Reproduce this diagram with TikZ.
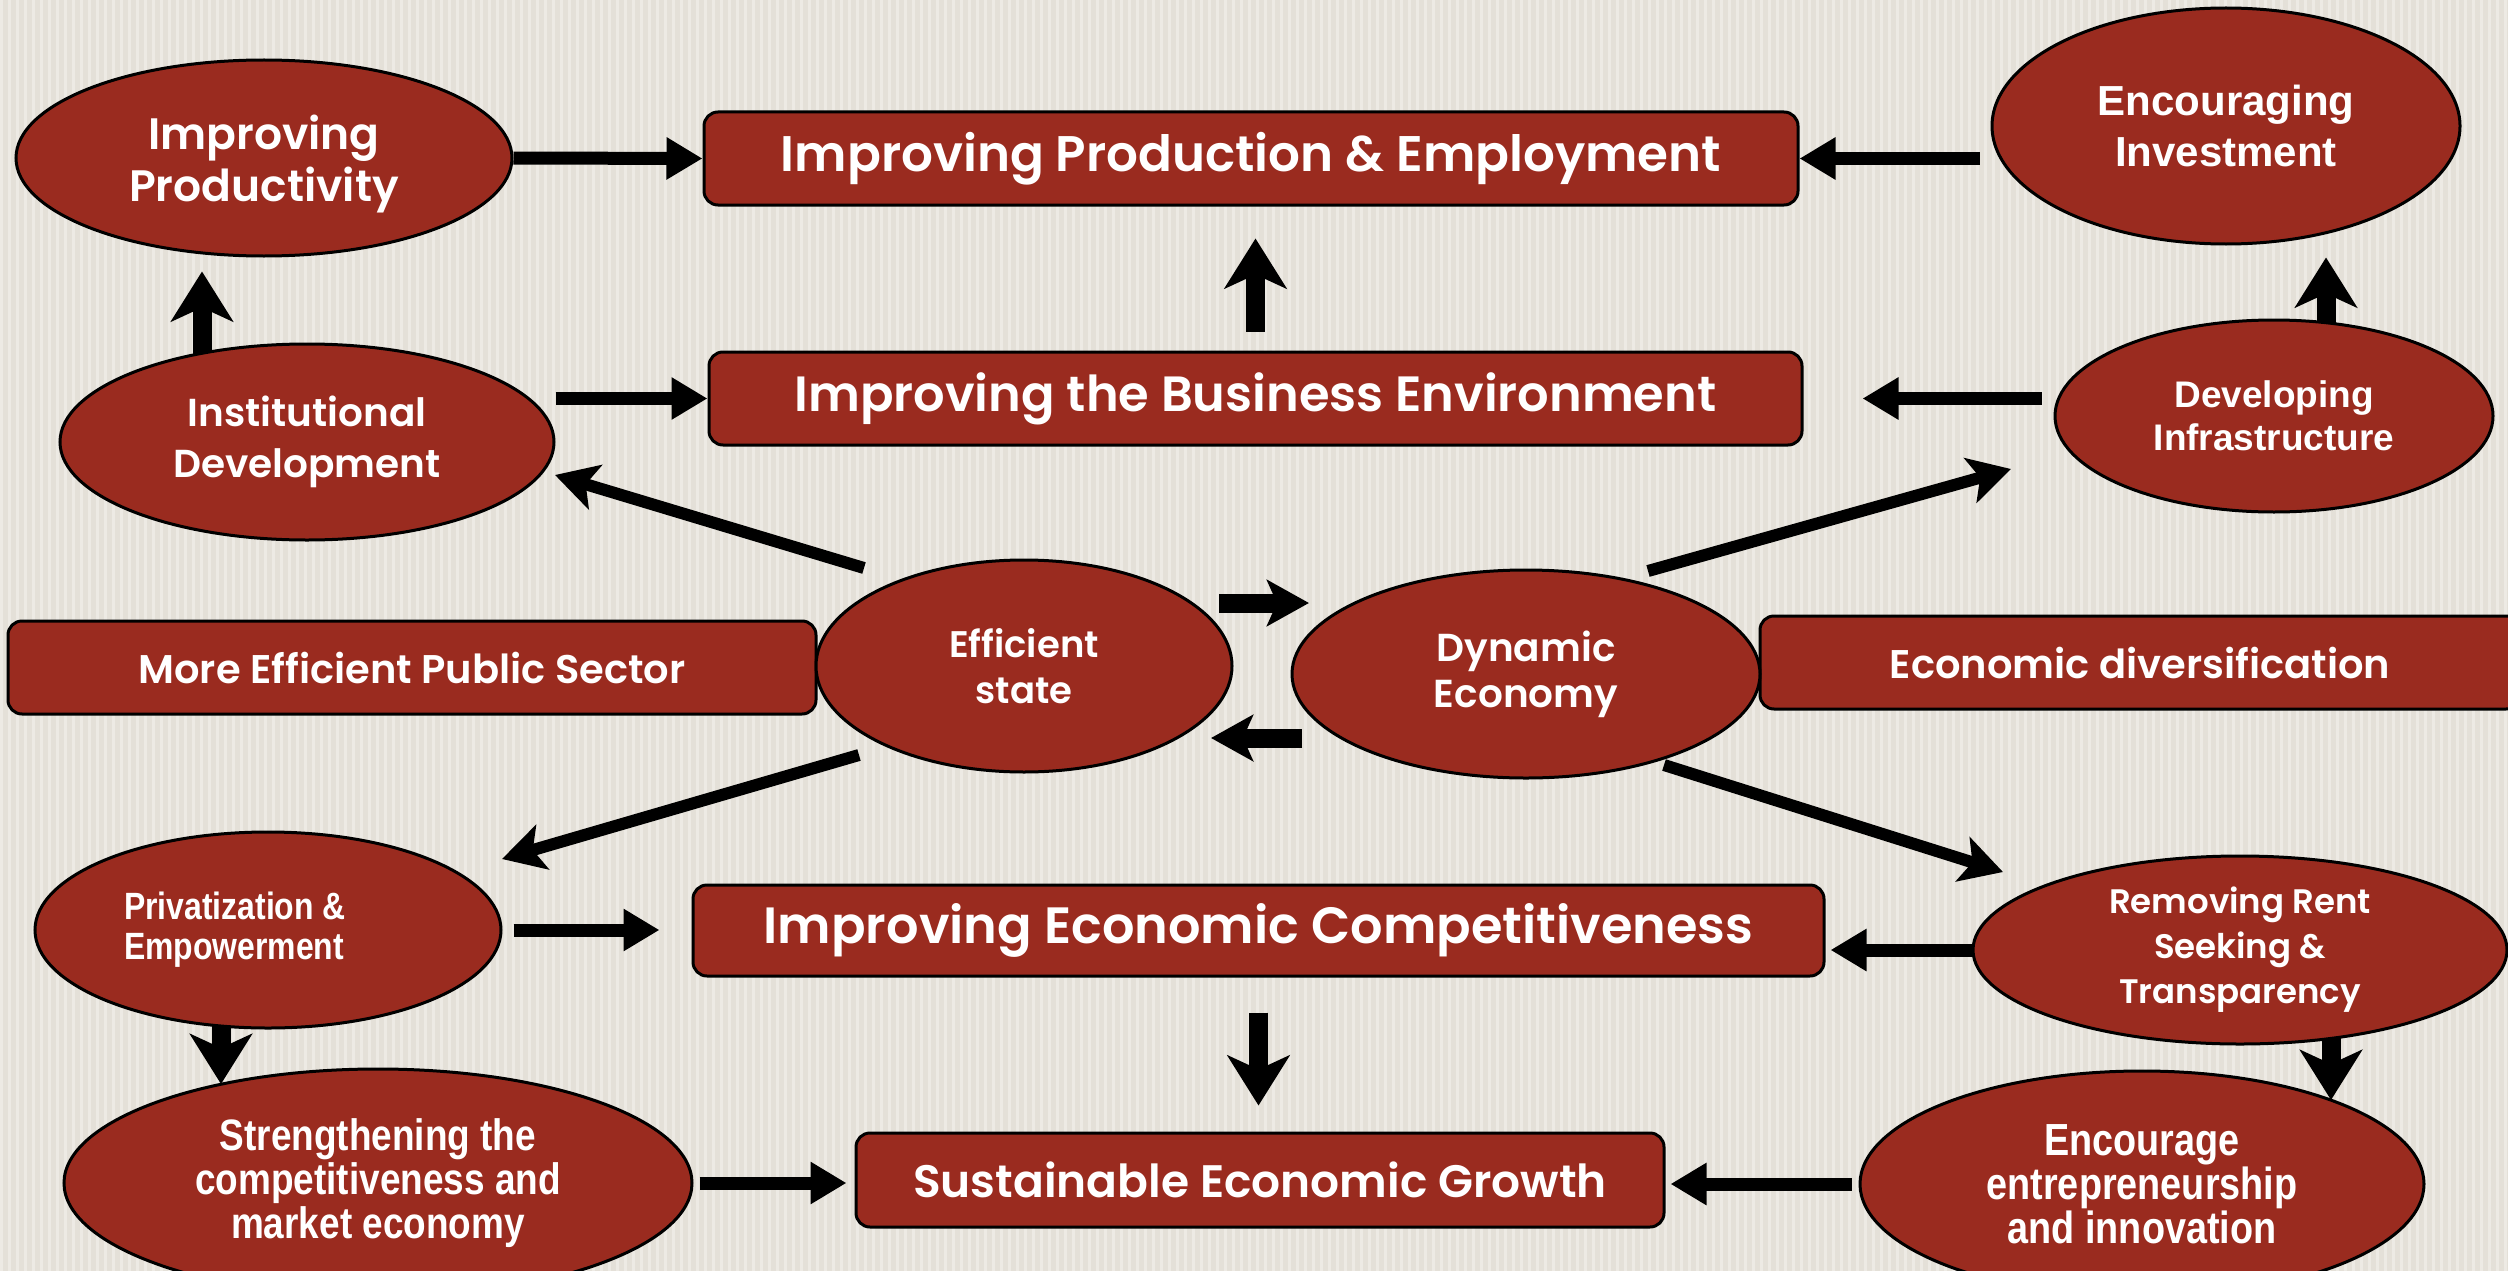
\documentclass[tikz,border=0pt]{standalone}
\usepackage{fontspec}
\usetikzlibrary{arrows.meta,shapes.geometric,calc}
\IfFontExistsTF{Poppins SemiBold}
  {\newfontfamily\gothb{Poppins SemiBold}\newcommand\gothw{}}
  {\newfontfamily\gothb{Poppins}\newcommand\gothw{\bfseries}}
\newfontfamily\arialb{Liberation Sans}
\newfontfamily\narrowb{Liberation Sans}[FakeStretch=0.84]
\newcommand\cgfont[2]{\gothb\gothw\fontsize{#1}{#2}\selectfont}
\newcommand\arfont[2]{\arialb\bfseries\fontsize{#1}{#2}\selectfont}
\newcommand\nafont[2]{\narrowb\bfseries\fontsize{#1}{#2}\selectfont}
\definecolor{redc}{HTML}{9A2B1F}
\definecolor{bgc}{HTML}{E4E0D8}
\definecolor{stripec}{HTML}{EDEAE4}
\pgfdeclarelayer{back}
\pgfdeclarelayer{mid}
\pgfsetlayers{back,mid,main}
\begin{document}
\begin{tikzpicture}[x=1pt,y=-1pt,
  ell/.style={ellipse, draw=black, line width=3pt, fill=redc, text=white, inner sep=0pt, align=center},
  bx/.style={rectangle, rounded corners=14pt, draw=black, line width=3pt, fill=redc, text=white, inner sep=0pt},
  harrow/.style={line width=13pt, -{Triangle[length=36pt,width=40pt]}},
  varrow/.style={line width=19pt, -{Stealth[length=50pt,width=62pt,inset=14pt]}},
  darrow/.style={line width=12pt, -{Stealth[length=42pt,width=46pt,inset=10pt]}}]
\useasboundingbox (0,0) rectangle (2508,1271);
\begin{pgfonlayer}{back}
\fill[bgc] (0,0) rectangle (2508,1271);
\foreach \i in {0,8,...,2504} \fill[stripec] (\i,0) rectangle ++(3,1271);
\end{pgfonlayer}

% ellipses
\node[ell,minimum width=496pt,minimum height=196pt,font=\cgfont{44}{52}] (prodv) at (264,158) {\rule{0pt}{46pt}Improving\\Productivity};
\node[ell,minimum width=468pt,minimum height=236pt,font=\arfont{42}{51}] (encinv) at (2226,126) {Encouraging\\Investment};
\node[ell,minimum width=494pt,minimum height=196pt,font=\cgfont{39}{51}] (inst) at (307,442) {Institutional\\Development};
\node[ell,minimum width=438pt,minimum height=192pt,font=\arfont{37}{43}] (devinf) at (2274,416) {Developing\\Infrastructure};
\node[bx,minimum width=808pt,minimum height=93pt,font=\cgfont{40}{40}] (pub) at (412,667.5) {More Efficient Public Sector};
\node[bx,minimum width=760pt,minimum height=93pt,font=\cgfont{40}{40}] (div) at (2140,662.5) {Economic diversification};
\node[ell,minimum width=416pt,minimum height=212pt,font=\cgfont{37}{46}] (eff) at (1024,666) {Efficient\\state};
\node[ell,minimum width=468pt,minimum height=208pt,font=\cgfont{39}{46}] (dyn) at (1526,674) {Dynamic\\Economy};
\node[ell,minimum width=466pt,minimum height=196pt,font=\nafont{38}{40},align=left] (priv) at (268,930) {\hspace*{-66pt}Privatization \&\\\hspace*{-66pt}Empowerment};
\node[ell,minimum width=534pt,minimum height=188pt,font=\cgfont{34}{45}] (rent) at (2240,950) {Removing Rent\\Seeking \&\\Transparency};
\node[ell,minimum width=628pt,minimum height=228pt,font=\nafont{44}{44}] (strg) at (378,1183) {Strengthening the\\competitiveness and\\market economy};
\node[ell,minimum width=564pt,minimum height=226pt,font=\nafont{45}{44}] (ent) at (2142,1184) {Encourage\\entrepreneurship\\and innovation};

% boxes
\node[bx,minimum width=1094pt,minimum height=93pt,font=\cgfont{50}{50}] (prod) at (1251,158.5) {Improving Production \& Employment};
\node[bx,minimum width=1093pt,minimum height=93pt,font=\cgfont{49.5}{50}] (bus) at (1255.5,398.5) {Improving the Business Environment};
\node[bx,minimum width=1131pt,minimum height=91pt,font=\cgfont{51}{50}] (comp) at (1258.5,930.5) {Improving Economic Competitiveness};
\node[bx,minimum width=808pt,minimum height=94pt,font=\cgfont{45.5}{50}] (sus) at (1260,1180) {Sustainable Economic Growth};

\begin{pgfonlayer}{mid}
\draw[harrow] (prodv.east) -- (prod.west);
\draw[harrow,shorten <=11pt] (encinv.west |- prod.east) -- (prod.east);
\draw[varrow,shorten <=19pt,shorten >=32pt] (bus.north) -- (bus.north |- prod.south);
\draw[varrow,shorten >=14pt] ($(inst.center)+(-105,-80)$) -- ($(prodv.south)+(-62,0)$);
\draw[harrow] (inst.east |- bus.west) -- (bus.west);
\draw[harrow,shorten <=12pt,shorten >=59pt] (devinf.west |- bus.east) -- (bus.east);
\draw[varrow,shorten >=12pt] ($(devinf.center)+(52,-86)$) -- ($(encinv.south)+(100,0)$);
\draw[darrow] ($(eff.center)+(-160,-98)$) -- ($(inst.center)+(248,33)$);
\draw[darrow] ($(dyn.center)+(122,-103)$) -- ($(devinf.center)+(-263,53)$);
\draw[darrow,line width=19pt] ($(eff.center)+(195,-63)$) -- ($(dyn.center)+(-217,-71)$);
\draw[darrow,line width=19pt] ($(dyn.center)+(-224,64)$) -- ($(eff.center)+(187,72)$);
\draw[darrow] ($(eff.center)+(-165,89)$) -- ($(priv.center)+(234,-71)$);
\draw[darrow] ($(dyn.center)+(138,91)$) -- ($(rent.center)+(-237,-78)$);
\draw[harrow,shorten <=11pt,shorten >=32pt] (priv.east) -- (priv.east -| comp.west);
\draw[harrow,shorten >=5pt] (rent.west) -- (rent.west -| comp.east);
\draw[varrow,shorten <=35pt,shorten >=26pt] (comp.south) -- (comp.south |- sus.north);
\draw[varrow] ($(priv.south)+(-47,-10)$) -- ($(strg.center)+(-157,-99)$);
\draw[varrow] ($(rent.south)+(91,-10)$) -- ($(ent.center)+(189,-84)$);
\draw[harrow,shorten <=6pt,shorten >=8pt] (strg.east) -- (strg.east -| sus.west);
\draw[harrow,shorten <=7pt,shorten >=5pt] (ent.west) -- (ent.west -| sus.east);
\end{pgfonlayer}
\end{tikzpicture}
\end{document}
